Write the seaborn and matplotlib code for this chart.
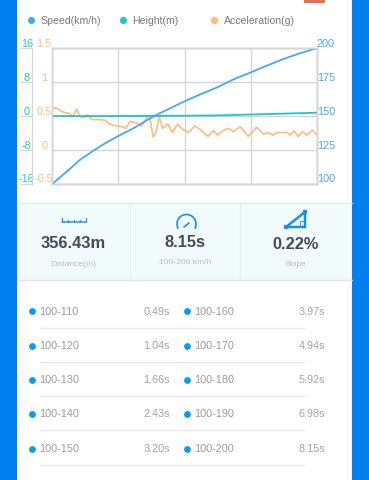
import numpy as np
import pandas as pd
import matplotlib
matplotlib.use("Agg")
import matplotlib.pyplot as plt
from matplotlib.patches import Arc, Rectangle, Polygon
from matplotlib.transforms import ScaledTranslation
import seaborn as sns

# values
speed_t = [0, 0.44, 0.85, 1.27, 1.68, 2.04, 2.5, 2.9, 3.3, 3.63, 4.05, 4.56, 5.07, 5.58, 6.0, 6.3, 6.6, 7.1, 7.6, 8.15]
speed = [100, 109, 117.7, 124.6, 130.7, 135.4, 141, 146.7, 152, 155.7, 160.6, 166, 171, 177, 181, 184, 187, 191.8, 196, 200]

height_t = [0, 1.5, 3.3, 5.0, 6.5, 8.15]
height = [0, 0, 0.05, 0.15, 0.45, 0.8]

accel_t = [0, 0.13, 0.26, 0.39, 0.52, 0.63, 0.75, 0.87, 0.98, 1.08, 1.21, 1.42, 1.62, 1.78, 1.98, 2.14, 2.27, 2.39,
           2.6, 2.75, 2.91, 3.01, 3.11, 3.2, 3.3, 3.4, 3.56, 3.7, 3.86, 4.02, 4.19, 4.4, 4.55, 4.8, 4.96, 5.09,
           5.25, 5.43, 5.58, 5.79, 6.04, 6.3, 6.51, 6.66, 6.79, 6.92, 7.22, 7.33, 7.45, 7.58, 7.72, 7.84, 8.02, 8.15]
accel = [0.615, 0.62, 0.576, 0.55, 0.54, 0.5, 0.6, 0.48, 0.48, 0.52, 0.45, 0.45, 0.44, 0.38, 0.355, 0.345, 0.32, 0.42,
         0.40, 0.355, 0.48, 0.47, 0.19, 0.27, 0.49, 0.32, 0.385, 0.26, 0.38, 0.305, 0.257, 0.355, 0.305, 0.2, 0.285, 0.22,
         0.285, 0.32, 0.27, 0.345, 0.2, 0.335, 0.237, 0.257, 0.22, 0.257, 0.26, 0.22, 0.28, 0.2, 0.27, 0.22, 0.295, 0.22]

speed_ticks = [100, 125, 150, 175, 200]
height_ticks = [-16, -8, 0, 8, 16]
height_labels = ["-16", "-8", "0", "8", "16"]
accel_ticks = [-0.5, 0, 0.5, 1, 1.5]
accel_labels = ["-0.5", "0", "0.5", "1", "1.5"]

legend_names = ["Speed(km/h)", "Height(m)", "Acceleration(g)"]

card_values = ["356.43m", "8.15s", "0.22%"]
card_labels = ["Distance(m)", "100-200 km/h", "Slope"]

ranges_left = ["100-110", "100-120", "100-130", "100-140", "100-150"]
times_left = ["0.49s", "1.04s", "1.66s", "2.43s", "3.20s"]
ranges_right = ["100-160", "100-170", "100-180", "100-190", "100-200"]
times_right = ["3.97s", "4.94s", "5.92s", "6.98s", "8.15s"]

C_SPEED = "#45A8F2"
C_HEIGHT = "#1DC8C2"
C_ACCEL = "#FDBB7C"
C_BLUE = "#0080EE"
C_DOT = "#0A9BEE"
C_GRID = "#D6D6D6"

sns.set_style("white")
plt.rcParams["font.family"] = ["Liberation Sans", "DejaVu Sans"]

W, H = 369, 480
fig = plt.figure(figsize=(W / 100, H / 100), dpi=100, facecolor="white")

# page layer in pixel coordinates, sits under the chart
bg = fig.add_axes([0, 0, 1, 1], zorder=0)
bg.set_xlim(0, W)
bg.set_ylim(H, 0)
bg.axis("off")

bg.add_patch(Rectangle((0, 0), 17, H, color=C_BLUE, lw=0))
bg.add_patch(Rectangle((352, 0), 17, H, color=C_BLUE, lw=0))
bg.add_patch(Rectangle((17, 0), 5, H, color="#FBFBFB", lw=0))
bg.add_patch(Rectangle((347, 0), 5, H, color="#FBFBFB", lw=0))
bg.add_patch(Rectangle((304, 0), 21, 2.5, color="#E4704E", lw=0))

# legend
for name, col, dx, tx in zip(legend_names, [C_SPEED, C_HEIGHT, C_ACCEL], [31, 123, 214], [40.5, 132, 224]):
    bg.scatter([dx], [20], s=26, color=col, lw=0)
    bg.text(tx, 20.5, name, fontsize=7.6, color="#7A7A7A", va="center", ha="left")

# summary cards
bg.add_patch(Rectangle((17, 203), 335, 77, color="#F1FBFB", lw=0))
bg.plot([17, 352], [203, 203], color="#DDEEEE", lw=1)
bg.plot([17, 352], [280, 280], color="#D8EAEA", lw=1)
bg.plot([130, 130], [203, 280], color="#E2F1F1", lw=1)
bg.plot([240, 240], [203, 280], color="#E2F1F1", lw=1)
for cx, vy, ly, val, lab in zip([73, 185, 296], [244, 242.5, 244.5], [264.5, 262.5, 264.5], card_values, card_labels):
    bg.text(cx, vy, val, fontsize=11.8, fontweight="bold", color="#404C5E", ha="center", va="center")
    bg.text(cx, ly, lab, fontsize=6.1, color="#BDBDBD", ha="center", va="center")

# ruler icon
bg.plot([62, 86], [222, 222], color="#3B93DC", lw=1.1)
for x in [62, 68, 74, 80, 86]:
    bg.plot([x, x], [218 if x in (62, 86) else 220, 222], color="#3B93DC", lw=1)
# gauge icon
bg.add_patch(Arc((186.5, 224), 19, 19, theta1=150, theta2=390, color="#1590EE", lw=1.2))
bg.plot([184, 189], [227, 223], color="#1590EE", lw=1.2)
# slope icon
bg.add_patch(Polygon([(286, 227), (305, 212), (305, 227)], closed=True, fill=False, ec="#1590EE", lw=1.8))
bg.add_patch(Rectangle((300, 221), 4, 5, fill=False, ec="#1590EE", lw=0.6))
bg.scatter([286, 305], [227, 212], s=10, marker="s", color="#1590EE", lw=0)

# time table
row_y = [311.7, 346, 380, 414, 449]
for i, y in enumerate(row_y):
    bg.plot([40, 304], [y + 16, y + 16], color="#E9E9E9", lw=1)
    for dx, tx, vx, rng, t in [(32, 39, 170, ranges_left[i], times_left[i]),
                               (187, 194, 325, ranges_right[i], times_right[i])]:
        bg.scatter([dx], [y - 0.5], s=24, color=C_DOT, lw=0)
        bg.text(tx, y + 0.3, rng, fontsize=7.8, color="#9C9C9C", ha="left", va="center")
        bg.text(vx, y + 0.3, t, fontsize=7.8, color="#A4A4A4", ha="right", va="center")

# chart, one axes per scale
L, R, T, B = 52.3, 316.7, 48.2, 184
ax = fig.add_axes([L / W, 1 - B / H, (R - L) / W, (B - T) / H], zorder=1)
ax.patch.set_alpha(0)
ax_h = ax.twinx()
ax_s = ax.twinx()

df_a = pd.DataFrame({"t": accel_t, "v": accel})
df_h = pd.DataFrame({"t": height_t, "v": height})
df_s = pd.DataFrame({"t": speed_t, "v": speed})
sns.lineplot(data=df_a, x="t", y="v", ax=ax, color=C_ACCEL, lw=1.2, errorbar=None)
sns.lineplot(data=df_h, x="t", y="v", ax=ax_h, color=C_HEIGHT, lw=1.3, errorbar=None)
sns.lineplot(data=df_s, x="t", y="v", ax=ax_s, color=C_SPEED, lw=1.3, errorbar=None)

ax.set_xlim(0, 8.15)
ax.set_xticks(np.linspace(0, 8.15, 5))
ax.set_xticklabels([])
ax.set_ylim(accel_ticks[0], accel_ticks[-1])
ax.set_yticks(accel_ticks)
ax.set_yticklabels(accel_labels)
ax.grid(True, color=C_GRID, lw=1)
ax.set_axisbelow(True)
ax.tick_params(axis="x", length=0)
ax.tick_params(axis="y", length=0, pad=5.8, labelsize=7.8, labelcolor=C_ACCEL)

ax_h.set_ylim(height_ticks[0], height_ticks[-1])
ax_h.set_yticks(height_ticks)
ax_h.set_yticklabels(height_labels)
ax_h.yaxis.set_ticks_position("left")
ax_h.yaxis.set_label_position("left")
ax_h.spines["left"].set_position(("outward", 14.4))
ax_h.spines["left"].set_visible(True)
ax_h.spines["left"].set_color(C_GRID)
ax_h.spines["left"].set_linewidth(0.8)
ax_h.tick_params(axis="y", direction="out", length=9, width=0.8, color=C_GRID, pad=-5, labelsize=7.8, labelcolor=C_HEIGHT)

ax_s.set_ylim(speed_ticks[0], speed_ticks[-1])
ax_s.set_yticks(speed_ticks)
ax_s.tick_params(axis="y", length=0, pad=0, labelsize=7.8, labelcolor=C_SPEED)

# tick labels sit just above their grid line
lift = ScaledTranslation(0, 1.5 / 100, fig.dpi_scale_trans)
for a, ha in ((ax, "center"), (ax_h, "center"), (ax_s, "left")):
    for lab in a.get_yticklabels():
        lab.set_ha(ha)
        lab.set_va("baseline")
        lab.set_transform(lab.get_transform() + lift)

for a in (ax, ax_h, ax_s):
    a.set_xlabel("")
    a.set_ylabel("")
    for side in ("left", "right", "top", "bottom"):
        if not (a is ax_h and side == "left"):
            a.spines[side].set_color(C_GRID)
            a.spines[side].set_linewidth(1)

fig.savefig("out.png", dpi=100)
